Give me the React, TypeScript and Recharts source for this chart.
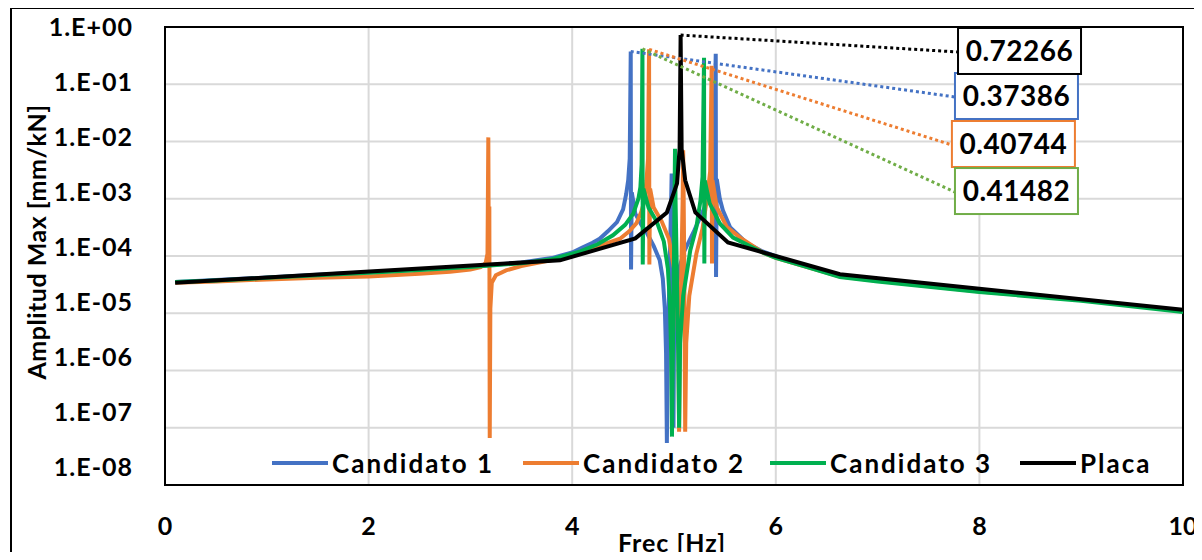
import { CartesianGrid, Line, LineChart, ReferenceArea, ReferenceDot, ReferenceLine, XAxis, YAxis } from 'recharts';

// Candidato 1
const frecC1 = [0.1, 0.5, 1.0, 1.5, 2.0, 2.5, 3.0, 3.5, 3.8, 4.0, 4.1, 4.2, 4.27, 4.35, 4.44, 4.5, 4.53, 4.55, 4.565, 4.575, 4.578, 4.585, 4.62, 4.68, 4.73, 4.8, 4.86, 4.89, 4.91, 4.922, 4.93, 4.94, 4.955, 4.965, 4.972, 4.977, 4.98, 4.985, 4.99, 4.995, 5.0, 5.02, 5.05, 5.1, 5.2, 5.3, 5.36, 5.39, 5.41, 5.413, 5.42, 5.45, 5.48, 5.55, 5.71, 5.87, 6.04, 6.3, 6.63, 7.0, 8.0, 9.0, 10];
const ampC1 = [3.5e-5, 3.8e-5, 4.2e-5, 4.7e-5, 5.2e-5, 5.8e-5, 6.5e-5, 7.7e-5, 9.2e-5, 1.15e-4, 1.4e-4, 1.7e-4, 2.0e-4, 2.7e-4, 3.9e-4, 6.5e-4, 1.2e-3, 2.1e-3, 5e-3, 0.37386, 5.8e-5, 1.3e-3, 5.5e-4, 3.5e-4, 2.6e-4, 1.5e-4, 8.4e-5, 4e-5, 1.2e-5, 2e-6, 5.4e-8, 3e-6, 4e-5, 2.5e-4, 9e-4, 2.75e-3, 7e-4, 1.5e-4, 2e-5, 1e-7, 3e-6, 2e-5, 6e-5, 1.2e-4, 2.8e-4, 7e-4, 1.6e-3, 3.5e-3, 0.34, 4.3e-5, 2.2e-3, 1.0e-3, 6.3e-4, 3.2e-4, 1.7e-4, 1.2e-4, 9.4e-5, 6.6e-5, 4.5e-5, 3.8e-5, 2.45e-5, 1.7e-5, 1.1e-5];

// Candidato 2
const frecC2 = [0.1, 0.5, 1.0, 1.5, 2.0, 2.5, 2.8, 3.0, 3.1, 3.15, 3.168, 3.176, 3.18, 3.186, 3.19, 3.196, 3.21, 3.25, 3.35, 3.5, 3.8, 4.0, 4.2, 4.35, 4.47, 4.56, 4.63, 4.68, 4.71, 4.73, 4.745, 4.755, 4.758, 4.765, 4.8, 4.88, 4.95, 5.0, 5.03, 5.045, 5.05, 5.058, 5.075, 5.085, 5.09, 5.095, 5.1, 5.105, 5.11, 5.12, 5.15, 5.22, 5.28, 5.33, 5.355, 5.37, 5.373, 5.378, 5.42, 5.52, 5.65, 5.87, 6.0, 6.3, 6.63, 7.0, 8.0, 9.0, 10];
const ampC2 = [3.4e-5, 3.6e-5, 3.9e-5, 4.15e-5, 4.4e-5, 4.9e-5, 5.3e-5, 5.8e-5, 6.4e-5, 7.5e-5, 1.1e-4, 0.0118, 1.6e-4, 7.3e-4, 6.6e-8, 1.2e-5, 3.4e-5, 4.6e-5, 5.6e-5, 6.7e-5, 8.5e-5, 1.05e-4, 1.4e-4, 1.7e-4, 2.0e-4, 2.7e-4, 3.7e-4, 6e-4, 9.3e-4, 2.1e-3, 5e-3, 0.40744, 7.1e-5, 1.5e-3, 7e-4, 4e-4, 2e-4, 6e-5, 1.5e-5, 2e-6, 8.5e-8, 3e-6, 1e-4, 1e-3, 7e-3, 1e-3, 1e-4, 3e-6, 8.5e-8, 3e-6, 2e-5, 1.1e-4, 3e-4, 1.2e-3, 3e-3, 0.21, 7.4e-5, 2.1e-3, 7.1e-4, 3.2e-4, 2.1e-4, 1.15e-4, 9.3e-5, 6.5e-5, 4.4e-5, 3.7e-5, 2.4e-5, 1.7e-5, 1.1e-5];

// Candidato 3
const frecC3 = [0.1, 0.5, 1.0, 1.5, 2.0, 2.5, 3.0, 3.5, 3.8, 4.08, 4.25, 4.4, 4.52, 4.6, 4.65, 4.67, 4.682, 4.69, 4.693, 4.7, 4.75, 4.83, 4.9, 4.94, 4.96, 4.972, 4.98, 4.99, 5.0, 5.005, 5.01, 5.015, 5.025, 5.04, 5.05, 5.06, 5.09, 5.16, 5.22, 5.26, 5.28, 5.295, 5.298, 5.302, 5.35, 5.45, 5.58, 5.87, 6.0, 6.3, 6.63, 7.0, 8.0, 9.0, 10];
const ampC3 = [3.5e-5, 3.75e-5, 4.15e-5, 4.6e-5, 5.1e-5, 5.7e-5, 6.4e-5, 7.5e-5, 8.8e-5, 1.2e-4, 1.6e-4, 2.3e-4, 3.5e-4, 5.5e-4, 1.0e-3, 1.6e-3, 4e-3, 0.41482, 7.1e-5, 1.5e-3, 7e-4, 4e-4, 1.8e-4, 6e-5, 1.5e-5, 2e-6, 7e-8, 3e-6, 1e-4, 1e-3, 7.5e-3, 1e-3, 1e-4, 3e-6, 1e-7, 3e-6, 2e-5, 1.26e-4, 3.2e-4, 9.3e-4, 2.4e-3, 0.29, 7.4e-5, 2.1e-3, 8.3e-4, 3.7e-4, 2.1e-4, 1.15e-4, 9.3e-5, 6.5e-5, 4.3e-5, 3.6e-5, 2.35e-5, 1.65e-5, 1.05e-5];

// Placa
const frecPlaca = [0.1, 3.88, 4.62, 4.93, 5.03, 5.055, 5.065, 5.075, 5.11, 5.21, 5.53, 6.63, 10];
const ampPlaca = [3.4e-5, 8.4e-5, 2.03e-4, 5.75e-4, 1.85e-3, 7.5e-3, 0.72266, 7.5e-3, 2.1e-3, 5.75e-4, 1.73e-4, 4.8e-5, 1.15e-5];

const nombres = ['Candidato 1', 'Candidato 2', 'Candidato 3', 'Placa'];
const colores = ['#4472C4', '#ED7D31', '#00B050', '#000000'];
const coloresEtiqueta = ['#4472C4', '#ED7D31', '#70AD47', '#000000'];

// where each peak callout box sits (frequency, amplitude)
const etiquetaFrec = [7.76, 7.73, 7.76, 7.79];
const etiquetaAmp = [0.0599, 0.00869, 0.00131, 0.366];

const xTicks = [0, 2, 4, 6, 8, 10];
const yTicks = [1e-8, 1e-7, 1e-6, 1e-5, 1e-4, 1e-3, 1e-2, 1e-1, 1];

const legendLeft = [272, 523, 770, 1020];

const FONT = 'Lato, "Open Sans", sans-serif';

const series = [
  { frec: frecC1, amp: ampC1 },
  { frec: frecC2, amp: ampC2 },
  { frec: frecC3, amp: ampC3 },
  { frec: frecPlaca, amp: ampPlaca },
].map((s, i) => ({
  name: nombres[i],
  color: colores[i],
  data: s.frec.map((x, j) => ({ x, y: s.amp[j] })),
}));

const picos = series.map((s, i) => {
  const top = s.data.reduce((a, b) => (b.y > a.y ? b : a));
  return { ...top, color: coloresEtiqueta[i], fx: etiquetaFrec[i], fy: etiquetaAmp[i] };
});

const fmtExp = (v: number) => {
  const e = Math.round(Math.log10(v));
  const sign = e < 0 ? '-' : '+';
  return `1.E${sign}${String(Math.abs(e)).padStart(2, '0')}`;
};

// labels drift a little upward as the exponent goes down
const YTick = (props: any) => {
  const { x, y, payload } = props;
  const shift = Math.log10(payload.value) * 2.2;
  return (
    <text x={x} y={y + shift} dy="0.355em" textAnchor="end" fontSize={25} fontWeight={700} letterSpacing={1} fill="#000" fontFamily={FONT}>
      {fmtExp(payload.value)}
    </text>
  );
};

const Caja = (color: string, valor: number) => (props: any) => {
  const { cx, cy } = props;
  return (
    <g>
      <rect x={cx} y={cy - 24} width={123} height={46} fill="#fff" stroke={color} strokeWidth={2} />
      <text x={cx + 61.5} y={cy - 1} dy="0.36em" textAnchor="middle" fontSize={28} fontWeight={700} letterSpacing={0.5} fill="#000" fontFamily={FONT}>
        {String(valor)}
      </text>
    </g>
  );
};

export default function App() {
  return (
    <div style={{ position: 'relative', width: 1202, height: 560, margin: -8, fontFamily: FONT, background: '#fff', overflow: 'hidden' }}>
      <div style={{ position: 'absolute', left: 10, top: 7, width: 1200, height: 560, border: '2px solid #000', boxSizing: 'border-box' }} />
      <LineChart width={1202} height={560} margin={{ top: 27, right: 19, bottom: 35, left: 10 }}>
        <CartesianGrid stroke="#d9d9d9" strokeWidth={2} />
        <XAxis
          type="number"
          dataKey="x"
          domain={[0, 10]}
          ticks={xTicks}
          axisLine={false}
          tickLine={false}
          tickSize={0}
          tickMargin={32}
          height={40}
          tick={{ fontSize: 25, fontWeight: 700, fill: '#000', fontFamily: FONT }}
          allowDataOverflow
        />
        <YAxis
          type="number"
          scale="log"
          domain={[1e-8, 1]}
          ticks={yTicks}
          axisLine={false}
          tickLine={false}
          tickSize={0}
          tickMargin={32}
          width={155}
          tick={<YTick />}
          allowDataOverflow
        />
        <ReferenceArea x1={0} x2={10} y1={1e-8} y2={1} fill="none" stroke="#000" strokeWidth={2} ifOverflow="visible" />
        {series.map((s) => (
          <Line
            key={s.name}
            data={s.data}
            dataKey="y"
            name={s.name}
            type="linear"
            stroke={s.color}
            strokeWidth={4}
            dot={false}
            isAnimationActive={false}
          />
        ))}
        {picos.map((p, i) => (
          <ReferenceLine
            key={'l' + i}
            segment={[{ x: p.x, y: p.y }, { x: p.fx, y: p.fy }]}
            stroke={p.color}
            strokeWidth={3}
            strokeDasharray="3 3"
            ifOverflow="visible"
          />
        ))}
        {picos.map((p, i) => (
          <ReferenceDot key={'d' + i} x={p.fx} y={p.fy} r={0} ifOverflow="visible" shape={Caja(p.color, p.y)} />
        ))}
      </LineChart>
      {series.map((s, i) => (
        <div key={s.name} style={{ position: 'absolute', left: legendLeft[i], top: 448, height: 30, display: 'flex', alignItems: 'center' }}>
          <div style={{ width: 56, height: 4, background: s.color, marginRight: 4 }} />
          <span style={{ fontSize: 26, fontWeight: 700, letterSpacing: 2, color: '#000', whiteSpace: 'nowrap' }}>{s.name}</span>
        </div>
      ))}
      <div style={{ position: 'absolute', left: 36, top: 242, transform: 'translate(-50%, -50%) rotate(-90deg)', whiteSpace: 'nowrap', fontSize: 25, fontWeight: 700, letterSpacing: 0.5, color: '#000' }}>
        Amplitud Max [mm/kN]
      </div>
      <div style={{ position: 'absolute', left: 672, top: 542, transform: 'translate(-50%, -50%)', whiteSpace: 'nowrap', fontSize: 25, fontWeight: 700, letterSpacing: 1, color: '#000' }}>
        Frec [Hz]
      </div>
    </div>
  );
}
